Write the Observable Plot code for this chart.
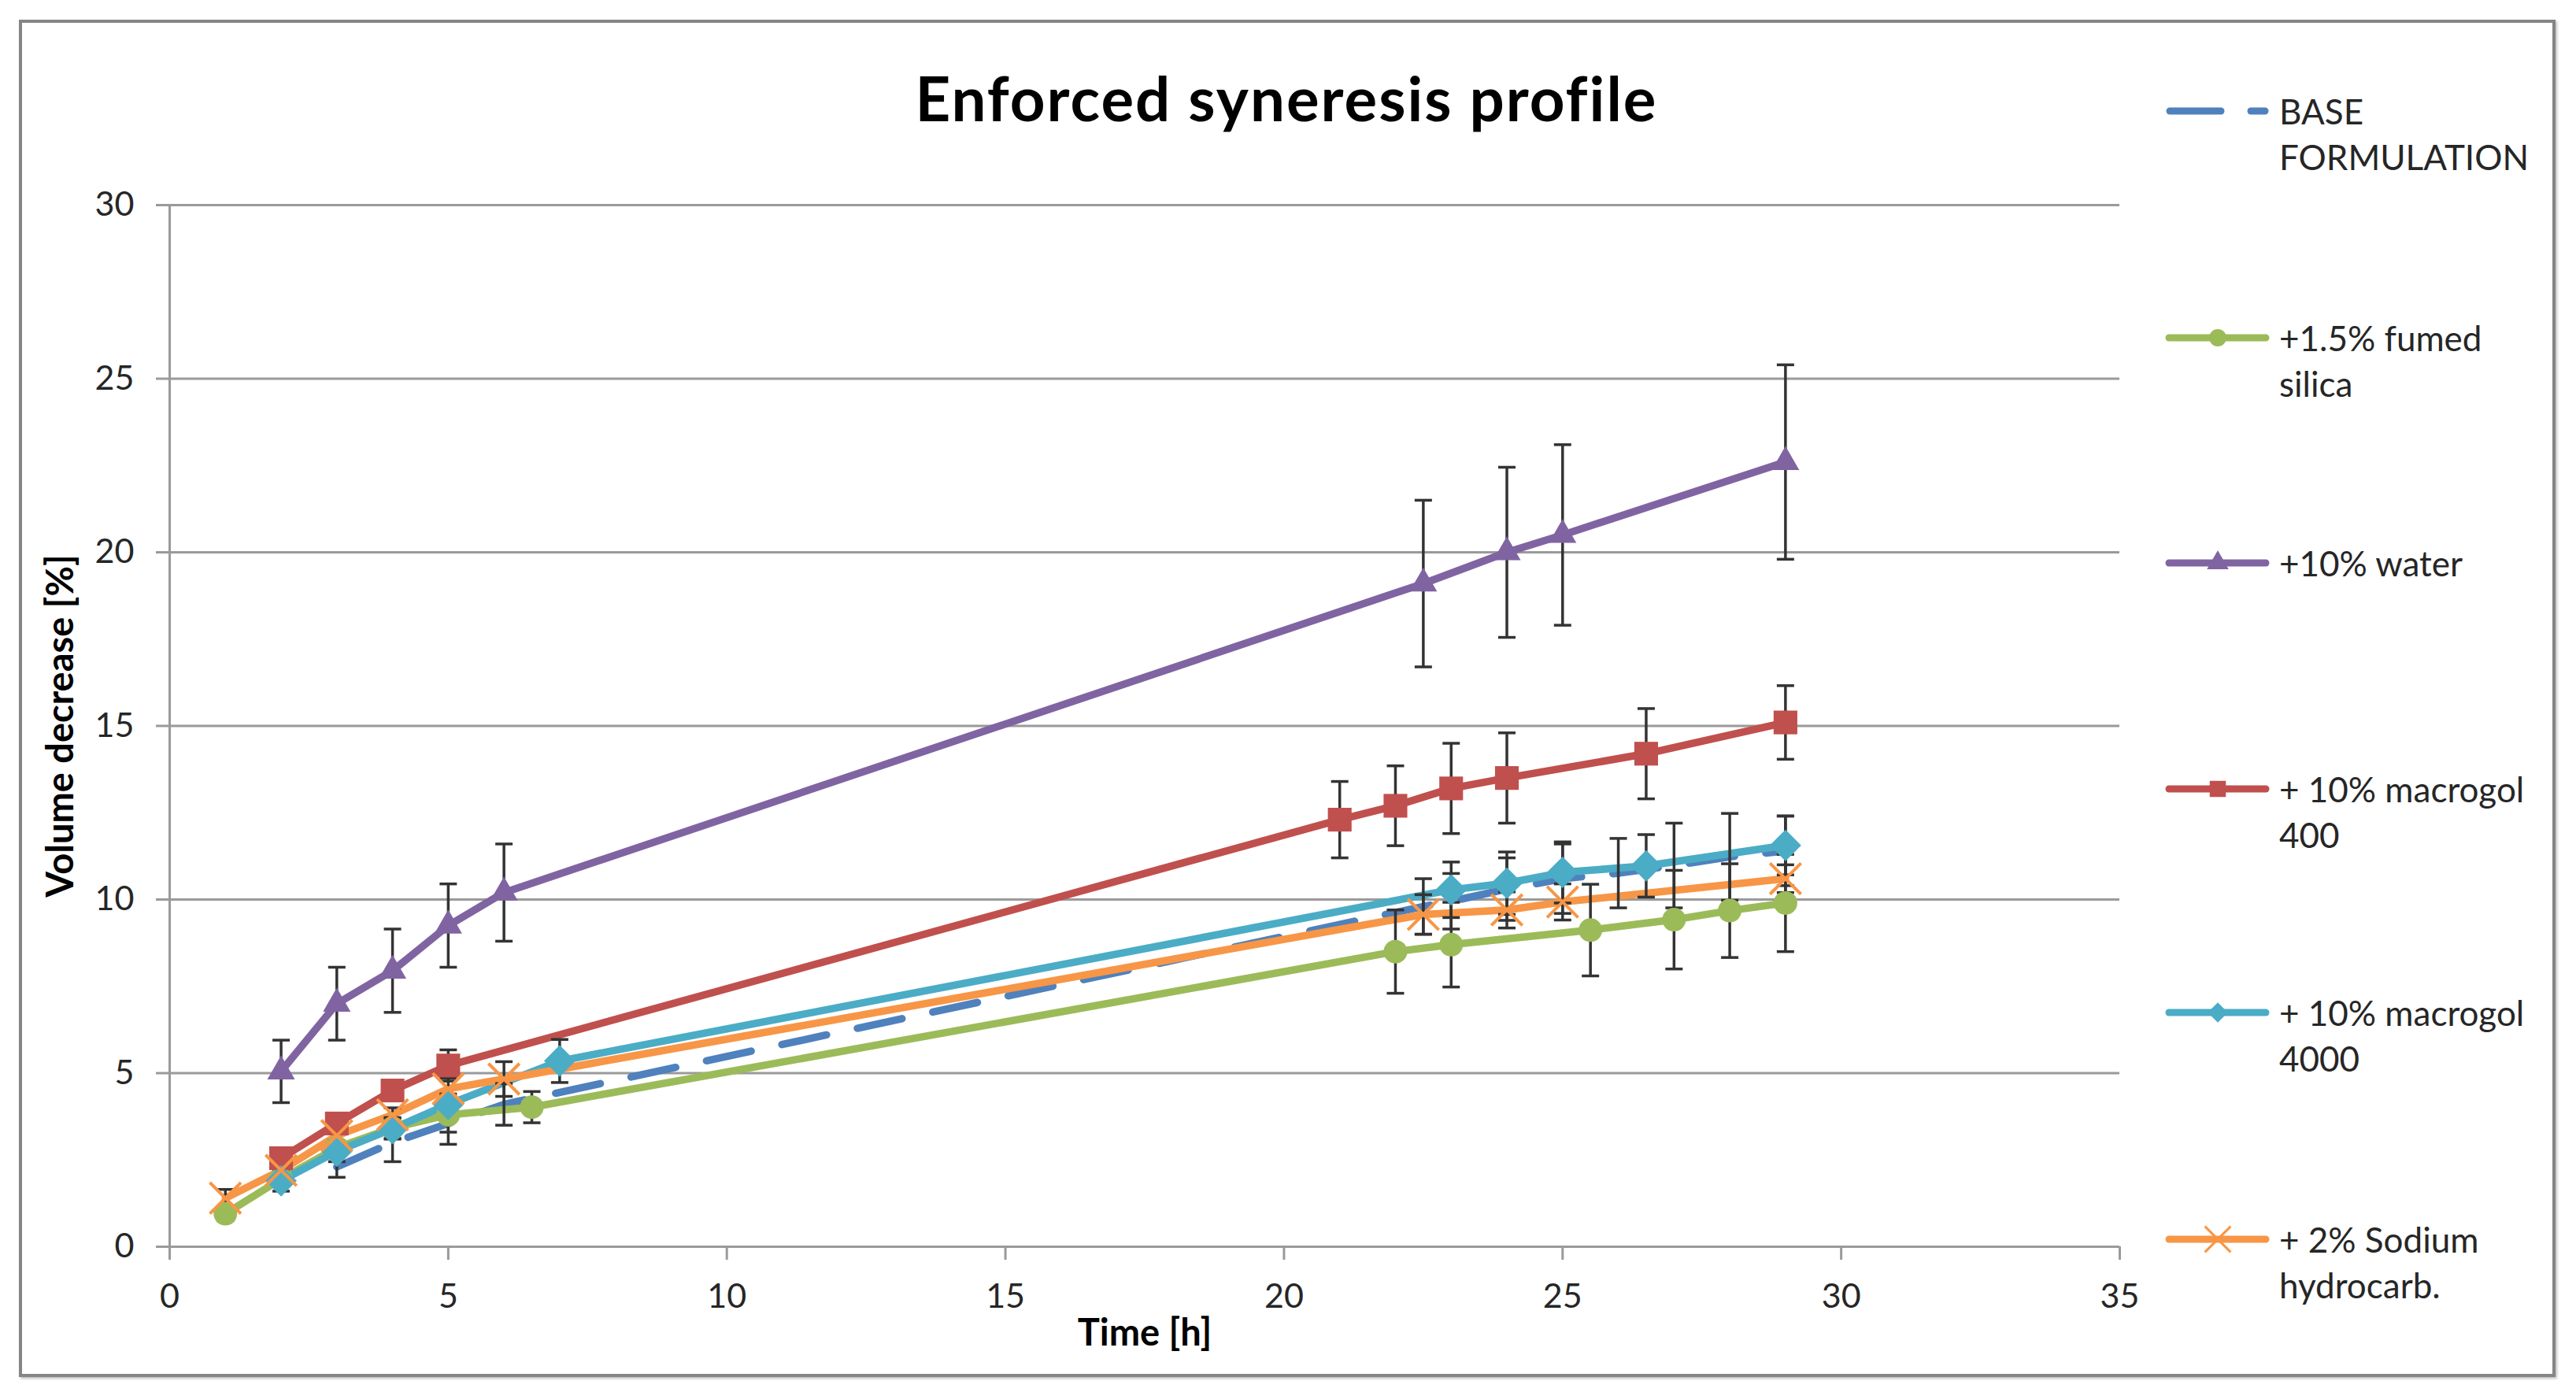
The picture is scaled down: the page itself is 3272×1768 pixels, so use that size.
<!DOCTYPE html>
<html>
<head>
<meta charset="utf-8">
<script src="https://cdn.jsdelivr.net/npm/d3@7"></script>
<script src="https://cdn.jsdelivr.net/npm/@observablehq/plot@0.6"></script>
<style>
html, body { margin: 0; padding: 0; background: #fff; }
#wrap { position: relative; width: 3272px; height: 1768px; overflow: hidden; font-family: Lato, "Open Sans", sans-serif; }
#frame { position: absolute; left: 24px; top: 25px; width: 3222px; height: 1724px; box-sizing: border-box; border: 4px solid #858585; box-shadow: 2px 2px 3px rgba(0,0,0,0.25); }
#title { position: absolute; left: 1034px; width: 1200px; top: 78px; text-align: center; font-weight: bold; font-size: 78px; letter-spacing: 2px; line-height: 92px; color: #000; }
#chart { position: absolute; left: 0; top: 0; }
.leg { position: absolute; left: 2895px; font-size: 44px; line-height: 58px; color: #262626; white-space: nowrap; }
.sw { position: absolute; left: 2740px; width: 150px; height: 40px; overflow: visible; }
</style>
</head>
<body>
<div id="wrap">
  <div id="frame"></div>
  <div id="title">Enforced syneresis profile</div>
  <div id="chart"></div>
</div>
<script>
// ---------- data ----------
const xTicks = [0, 5, 10, 15, 20, 25, 30, 35];
const yTicks = [0, 5, 10, 15, 20, 25, 30];

const seriesNames = ["BASE FORMULATION", "+1.5% fumed silica", "+10% water", "+ 10% macrogol 400", "+ 10% macrogol 4000", "+ 2% Sodium hydrocarb."];
const legendLines = [["BASE", "FORMULATION"], ["+1.5% fumed", "silica"], ["+10% water"], ["+ 10% macrogol", "400"], ["+ 10% macrogol", "4000"], ["+ 2% Sodium", "hydrocarb."]];
const seriesColors = ["#4F81BD", "#9BBB59", "#8064A2", "#C0504D", "#4BACC6", "#F79646"];

const baseTime  = [3, 4, 5, 6, 22.5, 23, 24, 25, 26, 27, 28, 29];
const baseValue = [2.3, 3.0, 3.55, 4.1, 9.8, 9.95, 10.3, 10.6, 10.76, 10.98, 11.23, 11.4];
const baseError = [0.3, 0.55, 0.6, 0.6, 0.8, 0.8, 0.9, 1.0, 1.0, 1.22, 1.25, 1.0];

const silicaTime  = [1, 2, 3, 4, 5, 6.5, 22, 23, 25.5, 27, 28, 29];
const silicaValue = [0.95, 1.95, 2.85, 3.42, 3.8, 4.02, 8.5, 8.7, 9.12, 9.42, 9.68, 9.9];
const silicaError = [0.2, 0.2, 0.2, 0.3, 0.5, 0.45, 1.2, 1.22, 1.32, 1.42, 1.35, 1.4];

const waterTime  = [2, 3, 4, 5, 6, 22.5, 24, 25, 29];
const waterValue = [5.05, 7.0, 7.95, 9.25, 10.2, 19.1, 20.0, 20.5, 22.6];
const waterError = [0.9, 1.05, 1.2, 1.2, 1.4, 2.4, 2.45, 2.6, 2.8];

const mac400Time  = [2, 3, 4, 5, 21, 22, 23, 24, 26.5, 29];
const mac400Value = [2.55, 3.55, 4.5, 5.22, 12.3, 12.7, 13.2, 13.5, 14.2, 15.1];
const mac400Error = [0.2, 0.2, 0.2, 0.45, 1.1, 1.15, 1.3, 1.3, 1.3, 1.06];

const mac4000Time  = [2, 3, 4, 5, 7, 23, 24, 25, 26.5, 29];
const mac4000Value = [1.9, 2.75, 3.4, 4.1, 5.35, 10.28, 10.47, 10.78, 10.97, 11.56];
const mac4000Error = [0.3, 0.3, 0.3, 0.3, 0.62, 0.8, 0.9, 0.88, 0.9, 0.85];

const sodiumTime  = [1, 2, 3, 4, 5, 6, 22.5, 24, 25, 29];
const sodiumValue = [1.4, 2.2, 3.2, 3.8, 4.55, 4.83, 9.57, 9.7, 9.93, 10.6];
const sodiumError = [0.25, 0.2, 0.2, 0.2, 0.3, 0.5, 0.57, 0.52, 0.52, 0.4];

// ---------- build tables ----------
const rows = (t, v, e) => t.map((d, i) => ({t: d, v: v[i], e: e[i]}));
const base = rows(baseTime, baseValue, baseError);
const silica = rows(silicaTime, silicaValue, silicaError);
const water = rows(waterTime, waterValue, waterError);
const mac400 = rows(mac400Time, mac400Value, mac400Error);
const mac4000 = rows(mac4000Time, mac4000Value, mac4000Error);
const sodium = rows(sodiumTime, sodiumValue, sodiumError);
const all = [base, silica, water, mac400, mac4000, sodium];

// horizontal cap symbol for error bars
const capSymbol = {
  draw(context, size) {
    const r = Math.sqrt(size / Math.PI);
    context.moveTo(-r, 0);
    context.lineTo(r, 0);
  }
};

const errMarks = all.flatMap(d => [
  Plot.ruleX(d, {x: "t", y1: r => r.v - r.e, y2: r => r.v + r.e, stroke: "#333", strokeWidth: 3.5}),
  Plot.dot(d, {x: "t", y: r => r.v + r.e, symbol: capSymbol, r: 11, stroke: "#333", strokeWidth: 3.5, fill: "none"}),
  Plot.dot(d, {x: "t", y: r => r.v - r.e, symbol: capSymbol, r: 11, stroke: "#333", strokeWidth: 3.5, fill: "none"})
]);

const lineMarks = all.map((d, i) => Plot.line(d, {
  x: "t", y: "v", stroke: seriesColors[i], strokeWidth: 9.5,
  strokeDasharray: i === 0 ? "58,40" : null, strokeLinecap: "round", strokeLinejoin: "round"
}));

const markerMarks = [
  Plot.dot(silica, {x: "t", y: "v", symbol: "circle", r: 15, fill: seriesColors[1], stroke: "none"}),
  Plot.dot(water, {x: "t", y: "v", symbol: "triangle", r: 13, fill: seriesColors[2], stroke: "none"}),
  Plot.dot(mac400, {x: "t", y: "v", symbol: "square", r: 17, fill: seriesColors[3], stroke: "none"}),
  Plot.dot(mac4000, {x: "t", y: "v", symbol: "diamond2", r: 18, fill: seriesColors[4], stroke: "none"}),
  Plot.dot(sodium, {x: "t", y: "v", symbol: "times", r: 18, stroke: seriesColors[5], strokeWidth: 4, fill: "none"})
];

const chart = Plot.plot({
  width: 3272,
  height: 1768,
  marginLeft: 215,
  marginRight: 580,
  marginTop: 260,
  marginBottom: 185,
  style: {fontFamily: "Lato, 'Open Sans', sans-serif", fontSize: "43px", color: "#262626", background: "transparent"},
  x: {domain: [0, 35]},
  y: {domain: [0, 30]},
  marks: [
    Plot.gridY(yTicks, {stroke: "#9a9a9a", strokeOpacity: 1, strokeWidth: 3}),
    Plot.ruleX([0], {stroke: "#9a9a9a", strokeWidth: 3}),
    Plot.axisX({ticks: xTicks, tickSize: 17, tickPadding: 30, stroke: "#9a9a9a", strokeWidth: 3, label: null, tickFormat: d => String(d)}),
    Plot.axisY({ticks: yTicks, tickSize: 17, tickPadding: 28, stroke: "#9a9a9a", strokeWidth: 3, label: null, tickFormat: d => String(d)}),
    Plot.text(["Time [h]"], {frameAnchor: "bottom", dy: 125, fontWeight: "bold", fontSize: 47, fill: "#000"}),
    Plot.text(["Volume decrease [%]"], {frameAnchor: "left", dx: -138, rotate: -90, textAnchor: "middle", fontWeight: "bold", fontSize: 47, letterSpacing: "1.5px", fill: "#000"}),
    ...lineMarks,
    ...errMarks,
    ...markerMarks
  ]
});
document.getElementById("chart").appendChild(chart);

// ---------- legend ----------
const wrap = d3.select("#wrap");
const legendCenters = [141, 429, 715, 1002, 1286, 1574];
const legendSymbols = [null, d3.symbolCircle, d3.symbolTriangle, d3.symbolSquare, d3.symbolDiamond2, d3.symbolTimes];
const legendSizes = [0, 380, 330, 420, 420, 700];
legendLines.forEach((lines, i) => {
  const cy = legendCenters[i];
  const svg = wrap.append("svg").attr("class", "sw")
    .style("top", (cy - 20) + "px").attr("width", 150).attr("height", 40);
  const col = seriesColors[i];
  if (i === 0) {
    svg.append("line").attr("x1", 16).attr("x2", 81).attr("y1", 20).attr("y2", 20)
      .attr("stroke", col).attr("stroke-width", 9).attr("stroke-linecap", "round");
    svg.append("line").attr("x1", 119).attr("x2", 137).attr("y1", 20).attr("y2", 20)
      .attr("stroke", col).attr("stroke-width", 9).attr("stroke-linecap", "round");
  } else {
    svg.append("line").attr("x1", 15).attr("x2", 138).attr("y1", 20).attr("y2", 20)
      .attr("stroke", col).attr("stroke-width", 9).attr("stroke-linecap", "round");
    const p = svg.append("path").attr("transform", "translate(77,20)")
      .attr("d", d3.symbol(legendSymbols[i], legendSizes[i])());
    if (i === 5) p.attr("fill", "none").attr("stroke", col).attr("stroke-width", 3);
    else p.attr("fill", col);
  }
  wrap.append("div").attr("class", "leg")
    .style("top", (cy - 29) + "px")
    .html(lines.join("<br>"));
});
</script>
</body>
</html>
